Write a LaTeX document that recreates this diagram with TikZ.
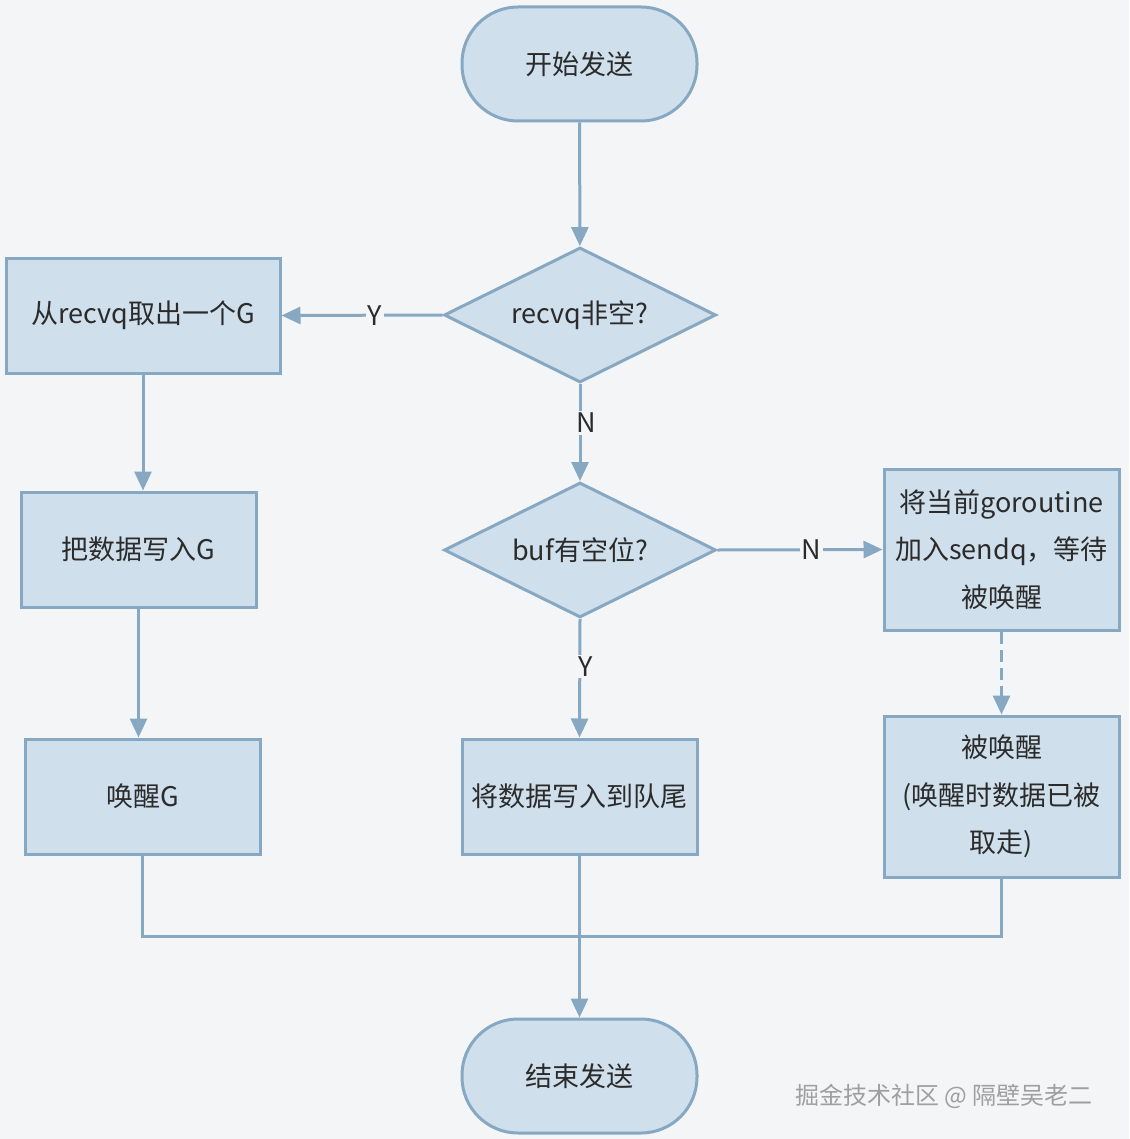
\documentclass[tikz,border=0pt]{standalone}
\usepackage{fontspec}
\setmainfont{Noto Sans CJK SC}
\usetikzlibrary{arrows.meta,shapes.geometric}
\definecolor{bgpaper}{HTML}{F4F5F7}
\definecolor{boxfill}{HTML}{CFDFEB}
\definecolor{boxline}{HTML}{86A8C2}
\definecolor{inktext}{HTML}{2B2B2B}
\tikzset{
  flowtext/.style={text=inktext,font=\fontsize{13.5}{23.75}\selectfont},
  procbox/.style={flowtext,draw=boxline,fill=boxfill,line width=1.5pt,
    minimum width=117.5pt,minimum height=57.5pt,align=center,inner sep=2pt},
  termbox/.style={procbox,rounded corners=28pt,minimum height=57pt},
  testbox/.style={flowtext,diamond,aspect=2,draw=boxline,fill=boxfill,
    line width=1.5pt,minimum width=136pt,minimum height=67.5pt,inner sep=0pt},
  flowline/.style={draw=boxline,line width=1.5pt},
  flowarrow/.style={flowline,-{Triangle[length=9.5pt,width=8.5pt]}},
  answer/.style={flowtext,fill=bgpaper,inner sep=1pt}
}
\begin{document}
\begin{tikzpicture}[x=0.5pt,y=-0.5pt]
      \fill[bgpaper] (0,0) rectangle (1129,1139);
      \useasboundingbox (0,0) rectangle (1129,1139);
      % middle column
      \node[termbox] (start) at (579.5,64) {开始发送};
      \node[testbox] (recvq) at (580,315) {recvq非空?};
      \node[testbox] (buf) at (580,550) {buf有空位?};
      \node[procbox] (tail) at (579.5,796.5) {将数据写入到队尾};
      \node[termbox] (done) at (579.5,1076) {结束发送};
      % left column
      \node[procbox,minimum width=137pt] (take) at (143,315.5) {从recvq取出一个G};
      \node[procbox] (copy) at (138.5,549.5) {把数据写入G};
      \node[procbox] (wake) at (142.5,796.5) {唤醒G};
      % right column
      \node[procbox,minimum height=80.5pt] (park) at (1001.5,549.5)
        {将当前goroutine\\加入sendq，等待\\被唤醒};
      \node[procbox,minimum height=80.5pt] (woken) at (1001.5,796.5)
        {被唤醒\\(唤醒时数据已被\\取走)};
      % arrows
      \draw[flowarrow] (start) -- (recvq);
      \draw[flowarrow] (recvq.west) -- node[answer,pos=0.42] {Y} (take.east);
      \draw[flowarrow] (recvq.south) -- node[answer,pos=0.4,xshift=3pt] {N} (buf.north);
      \draw[flowarrow] (take.south) -- (take.south |- copy.north);
      \draw[flowarrow] (copy.south) -- (copy.south |- wake.north);
      \draw[flowarrow] (buf.east) -- node[answer,pos=0.57] {N} (park.west);
      \draw[flowarrow] (buf.south) -- node[answer,pos=0.4,xshift=3pt] {Y} (tail.north);
      \draw[flowarrow,dashed,dash pattern=on 6pt off 3pt] (park) -- (woken);
      % join to the end
      \coordinate (join) at (579.5,936);
      \draw[flowline] (wake.south) |- (join) -| (woken.south);
      \draw[flowarrow] (tail.south) -- (done.north);
      \node[text=gray!75,font=\fontsize{12}{14}\selectfont] (mark) at (944,1096)
        {掘金技术社区 @ 隔壁吴老二};
\end{tikzpicture}
\end{document}
